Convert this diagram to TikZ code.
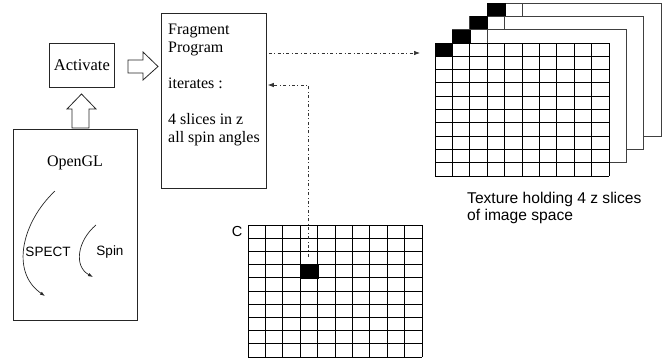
\documentclass[tikz,border=0pt]{standalone}
\usepackage{fontspec}
\setmainfont{Liberation Serif}
\newfontfamily\labelsans{Liberation Sans}
\usetikzlibrary{arrows.meta}

\tikzset{
  box/.style={draw=black!85, line width=0.8pt, inner sep=0pt},
  serif/.style={font=\fontsize{16}{18}\selectfont, inner sep=0pt},
  sanslbl/.style={font=\labelsans\fontsize{13.5}{17}\selectfont, inner sep=0pt},
  hollow/.style={draw=black!85, line width=0.8pt, fill=white, line join=miter},
  dashdot/.style={black!80, line width=0.7pt,
    dash pattern=on 3pt off 2.5pt on 0.8pt off 2.5pt},
  tip/.style={-{Latex[length=6pt,width=4.5pt]}},
  curvetip/.style={-{Latex[length=5pt,width=3.5pt]}},
  gridline/.style={draw=black, line width=0.9pt},
  backline/.style={draw=black!75, line width=0.8pt},
  pixel/.style={fill=black, draw=black, line width=0.8pt, inner sep=0pt,
    minimum width=17.4pt, minimum height=13.3pt, anchor=north west},
}

\begin{document}
\begin{tikzpicture}[x=1pt, y=-1pt]
\useasboundingbox (0,0) rectangle (672,362);

% --- boxes on the left ---------------------------------------------------
\node[box, serif, minimum width=65pt, minimum height=44pt, anchor=north west,
  font=\fontsize{16.5}{18}\selectfont]
  (act) at (49,43) {Activate};
\node[box, minimum width=105pt, minimum height=175pt, anchor=north west]
  (frag) at (161,13) {};
\node[box, minimum width=124pt, minimum height=191pt, anchor=north west]
  (ogl) at (13,129) {};

\node[serif, anchor=north west, align=left] (fragtxt) at (168,24)
  {Fragment\\Program\\[18pt]iterates :\\[18pt]4 slices in z\\all spin angles};
\node[serif] (ogltxt) at (75,163) {OpenGL};

% --- rotation arrows inside the OpenGL box --------------------------------
\node[sanslbl] (spect) at (48,252) {SPECT};
\node[sanslbl] (spin) at (110,252) {Spin};
\coordinate (s0) at (55,191);
\coordinate (s1) at (45,296);
\coordinate (p0) at (96,225);
\coordinate (p1) at (93,277);
\draw[black!85, line width=0.7pt, curvetip]
  (s0) .. controls (22,222) and (10,272) .. (s1);
\draw[black!85, line width=0.7pt, curvetip]
  (p0) .. controls (78,240) and (73,266) .. (p1);

% --- hollow block arrows ----------------------------------------------------
\draw[hollow] (128,60) -- (143,60) -- (143,52) -- (158,66.5) -- (143,80)
  -- (143,73) -- (128,73) -- cycle;
\draw[hollow] (72,128) -- (72,109) -- (67,109) -- (81.5,94) -- (96,109)
  -- (89,109) -- (89,128) -- cycle;

% --- texture stack: 4 z slices ------------------------------------------------
\foreach \k in {3,2,1} {
  \pgfmathsetmacro{\ox}{435+17.4*\k}
  \pgfmathsetmacro{\oy}{43-13.3*\k}
  \fill[white] (\ox,\oy) rectangle ++(174,133);
  \draw[backline] (\ox,\oy) rectangle ++(174,133);
  \draw[backline] (\ox,\oy) rectangle ++(34.8,13.3);
  \node[pixel] (tex\k) at (\ox,\oy) {};
}
\fill[white] (435,43) rectangle ++(174,133);
\foreach \i in {0,...,10} {
  \draw[gridline] (435+17.4*\i,43) -- ++(0,133);
  \draw[gridline] (435,43+13.3*\i) -- ++(174,0);
}
\node[pixel] (tex0) at (435,43) {};
\node[sanslbl, font=\labelsans\fontsize{15.6}{17}\selectfont, anchor=north west,
  align=left] (texlbl) at (467,192) {Texture holding 4 z slices\\of image space};

% --- C grid ------------------------------------------------------------------
\foreach \i in {0,...,10} {
  \draw[gridline] (248+17.4*\i,225) -- ++(0,132);
  \draw[gridline] (248,225+13.2*\i) -- ++(174,0);
}
\node[pixel, minimum height=13.2pt] (cpix) at (300.2,264.6) {};
\node[sanslbl, font=\labelsans\fontsize{14.5}{17}\selectfont] (clbl) at (237,232) {C};

% --- dash-dot connectors -----------------------------------------------------
\coordinate (texin) at (420,53);
\coordinate (bend) at (308,85);
\draw[dashdot, tip] ([xshift=2pt]frag.east |- texin) -- (texin);
\draw[dashdot, tip] ([yshift=8pt]cpix.north -| bend) -- (bend)
  -- ([xshift=1pt]frag.east |- bend);

\end{tikzpicture}
\end{document}
